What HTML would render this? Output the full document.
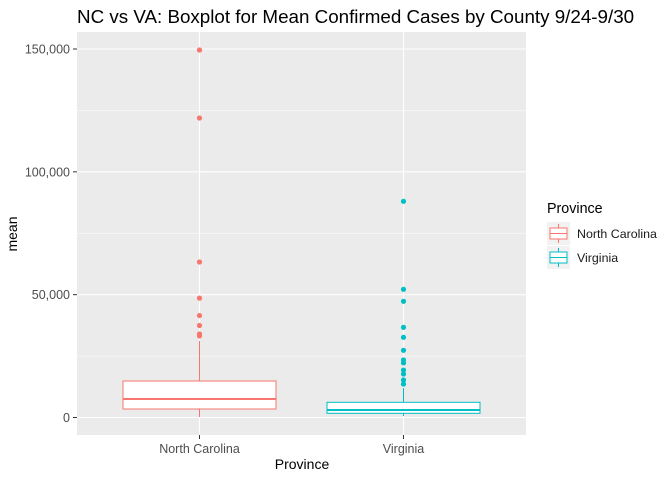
<!DOCTYPE html>
<html><head><meta charset="utf-8"><style>
body{margin:0;background:#fff;font-family:"Liberation Sans",Arial,sans-serif}
svg text{font-family:"Liberation Sans",Arial,sans-serif}
</style></head><body>
<svg id="c" width="672" height="480" xmlns="http://www.w3.org/2000/svg">
<text x="77" y="23" font-size="18.8" fill="#000">NC vs VA: Boxplot for Mean Confirmed Cases by County 9/24-9/30</text>
<rect x="77" y="32" width="449" height="403" fill="#ebebeb"/>
<g id="grid"></g><g id="marks"></g><g id="axes"></g>
<text x="17" y="234" font-size="14" fill="#000" transform="rotate(-90 17 234)" text-anchor="middle">mean</text>
<text x="302" y="469" font-size="14" fill="#000" text-anchor="middle">Province</text>
<g>
<text x="547" y="213" font-size="14.3" fill="#000">Province</text>
<g>
<rect x="547" y="222" width="23" height="23" fill="#f2f2f2"/>
<line x1="558.5" y1="224" x2="558.5" y2="243" stroke="#F8766D"/>
<rect x="550" y="228" width="17" height="11" fill="#fff" stroke="#F8766D"/>
<line x1="550" y1="233.5" x2="567" y2="233.5" stroke="#F8766D"/>
<text x="577" y="238" font-size="12.4" fill="#1a1a1a">North Carolina</text></g>
<g>
<rect x="547" y="246" width="23" height="23" fill="#f2f2f2"/>
<line x1="558.5" y1="248" x2="558.5" y2="267" stroke="#00BFC4"/>
<rect x="550" y="252" width="17" height="11" fill="#fff" stroke="#00BFC4"/>
<line x1="550" y1="257.5" x2="567" y2="257.5" stroke="#00BFC4"/>
<text x="577" y="262" font-size="12.4" fill="#1a1a1a">Virginia</text></g>
</g>
</svg>
<script>
const categories=["North Carolina","Virginia"];
const colors=["#F8766D","#00BFC4"];
const q1=[3460,1710];
const medians=[7530,3050];
const q3=[14860,6190];
const whiskLow=[200,600];
const whiskHigh=[31140,12000];
const outliersNC=[149600,121900,63300,48600,41500,37450,34000,33200];
const outliersVA=[88000,52180,47300,36700,32650,27350,23400,22200,19300,17700,15260,13600];
const yTicks=[0,50000,100000,150000];
const yTickLabels=["0","50,000","100,000","150,000"];
const NS="http://www.w3.org/2000/svg";
const y=v=>417.5-v*368.5/150000;
const x=i=>199.5+i*204;
const bw=153;
function mk(g,t,a){const e=document.createElementNS(NS,t);for(const k in a)e.setAttribute(k,a[k]);document.getElementById(g).appendChild(e);return e;}
for(let v=25000;v<150000;v+=50000){const e=mk('grid','line',{x1:77,x2:526,y1:y(v),y2:y(v),stroke:'#fff','stroke-width':0.5});

}
yTicks.forEach((v,i)=>{const e=mk('grid','line',{x1:77,x2:526,y1:y(v),y2:y(v),stroke:'#fff','stroke-width':1.1});


const t=mk('axes','line',{x1:73,x2:77,y1:y(v),y2:y(v),stroke:'#333'});


const l=mk('axes','text',{x:70,y:y(v)+4.5,'font-size':12.5,fill:'#4d4d4d','text-anchor':'end'});l.textContent=yTickLabels[i];

});
categories.forEach((c,i)=>{const e=mk('grid','line',{x1:x(i),x2:x(i),y1:32,y2:435,stroke:'#fff','stroke-width':1.1});


const t=mk('axes','line',{x1:x(i),x2:x(i),y1:435,y2:439,stroke:'#333'});


const l=mk('axes','text',{x:x(i),y:453,'font-size':12.5,fill:'#4d4d4d','text-anchor':'middle'});l.textContent=c;

});
const outs=[outliersNC,outliersVA];
categories.forEach((c,i)=>{const col=colors[i];
const w1=mk('marks','line',{x1:x(i),x2:x(i),y1:y(q3[i]),y2:y(whiskHigh[i]),stroke:col});


const w2=mk('marks','line',{x1:x(i),x2:x(i),y1:y(q1[i]),y2:y(whiskLow[i]),stroke:col});


const b=mk('marks','rect',{x:x(i)-bw/2,y:y(q3[i]),width:bw,height:y(q1[i])-y(q3[i]),fill:'#fff',stroke:col});


const m=mk('marks','line',{x1:x(i)-bw/2,x2:x(i)+bw/2,y1:y(medians[i]),y2:y(medians[i]),stroke:col,'stroke-width':2});


outs[i].forEach(v=>{const p=mk('marks','circle',{cx:x(i),cy:y(v),r:2.6,fill:col});

});});
</script>
</body></html>
